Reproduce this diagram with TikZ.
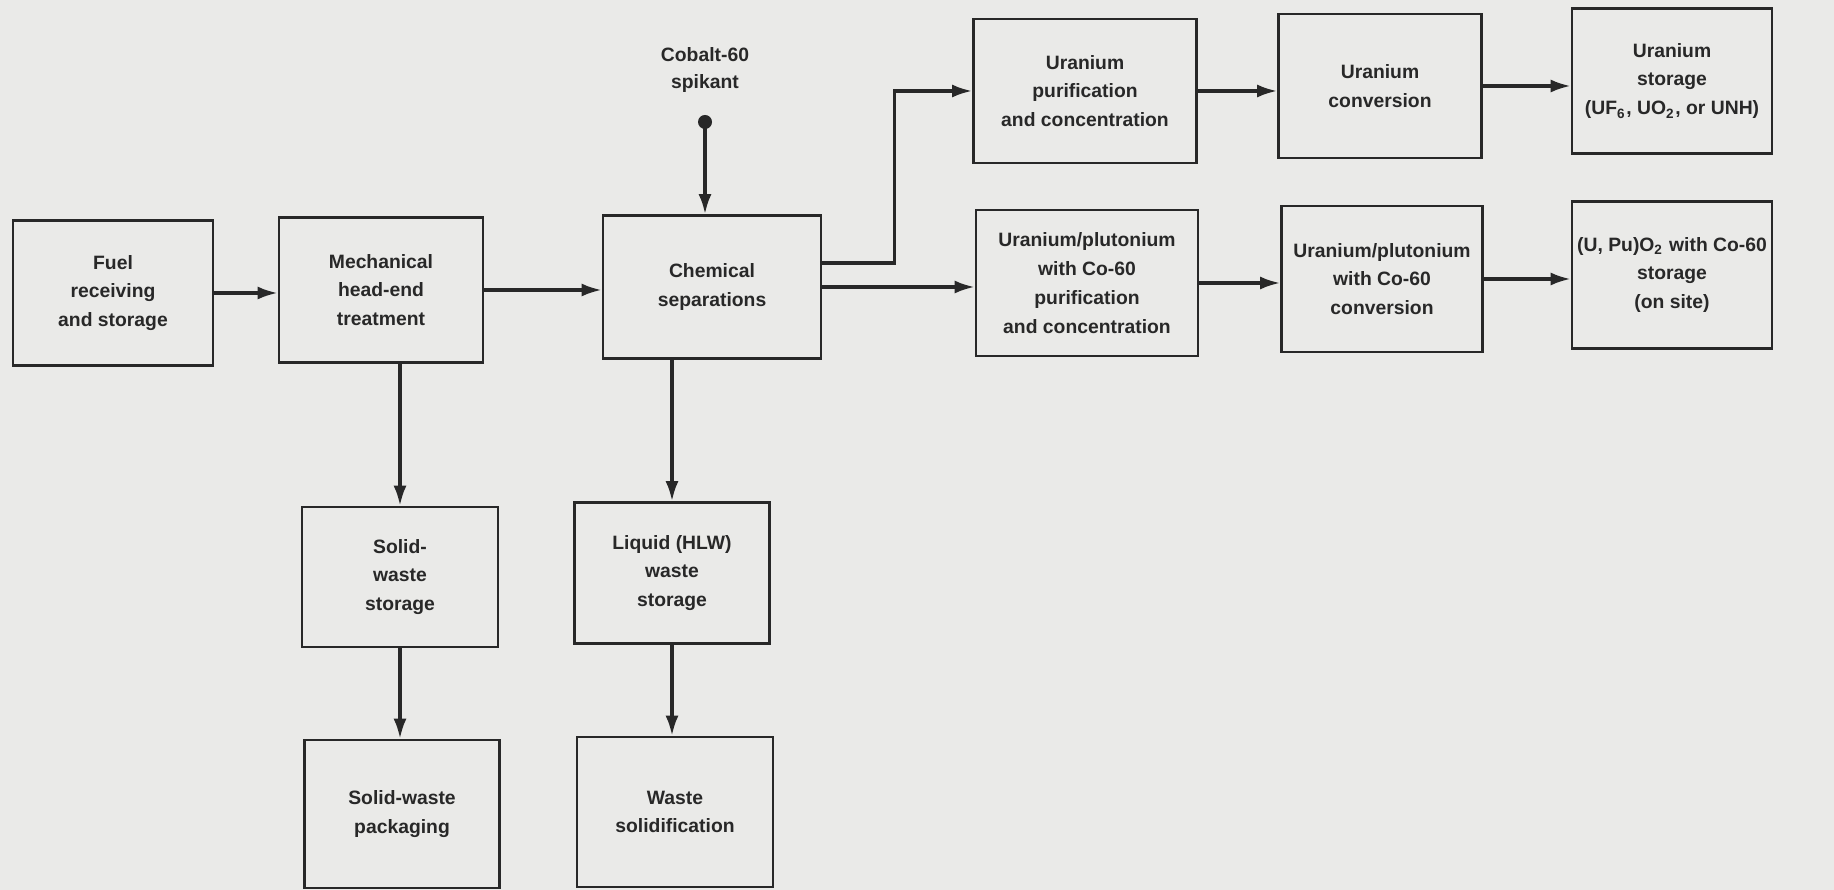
\documentclass[tikz,border=0pt]{standalone}
\usepackage{fontspec}
\setmainfont{Liberation Sans}
\usetikzlibrary{arrows.meta}
\definecolor{paper}{RGB}{234,234,232}
\definecolor{ink}{RGB}{40,40,40}
\begin{document}
\begin{tikzpicture}[nodeStyle/.style={rectangle, draw=ink, line width=0.75pt, minimum width=2cm, minimum height=1.45cm, align=center, text=ink, inner sep=1pt, font=\bfseries\fontsize{5.5}{8.2}\selectfont}, flowStyle/.style={draw=ink, line width=0.9pt, -{Latex[length=2mm,width=1.3mm]}}]
                    \fill[paper] (0,0) rectangle (18.34,-8.90);
                    \useasboundingbox (0,0) rectangle (18.34,-8.90);

                    \node[nodeStyle](11) at ( 1.13, -2.93) {Fuel\\receiving\\and storage};
                    \node[nodeStyle, minimum width=2.04cm](12) at ( 3.81, -2.90) {Mechanical\\head-end\\treatment};
                    \node[nodeStyle, minimum width=2.18cm, minimum height=1.43cm](13) at ( 7.12, -2.87) {Chemical\\separations};
                    \node[nodeStyle, minimum width=2.23cm, minimum height=1.44cm](04) at (10.85, -0.91) {Uranium\\purification\\and concentration};
                    \node[nodeStyle, minimum width=2.22cm, minimum height=1.46cm](14) at (10.87, -2.83) {Uranium/plutonium\\with Co-60\\purification\\and concentration};
                    \node[nodeStyle, minimum width=2.03cm, minimum height=1.44cm](05) at (13.80, -0.86) {Uranium\\conversion};
                    \node[nodeStyle, minimum width=2.01cm, minimum height=1.46cm](15) at (13.82, -2.79) {Uranium/plutonium\\with Co-60\\conversion};
                    \node[nodeStyle](06) at (16.72, -0.81) {Uranium\\storage\\(UF\textsubscript{6}, UO\textsubscript{2}, or UNH)};
                    \node[nodeStyle, minimum height=1.47cm](16) at (16.72, -2.75) {(U, Pu)O\textsubscript{2} with Co-60\\storage\\(on site)};
                    \node[nodeStyle, minimum width=1.96cm, minimum height=1.40cm](22) at ( 4.00, -5.77) {Solid-\\waste\\storage};
                    \node[nodeStyle, minimum width=1.95cm, minimum height=1.48cm](32) at ( 4.02, -8.14) {Solid-waste\\packaging};
                    \node[nodeStyle, minimum width=1.95cm, minimum height=1.41cm](23) at ( 6.72, -5.73) {Liquid (HLW)\\waste\\storage};
                    \node[nodeStyle, minimum width=1.96cm, minimum height=1.50cm](33) at ( 6.75, -8.12) {Waste\\solidification};

                    \node[text=ink, align=center, font=\bfseries\fontsize{5.5}{7.6}\selectfont](spikant) at (7.05, -0.70) {Cobalt-60\\spikant};
                    \fill[ink] (7.05, -1.22) circle (0.07) coordinate (dot);

                    \draw[flowStyle] (11) -- (11 -| 12.west);
                    \draw[flowStyle] (12) -- (12 -| 13.west);
                    \draw[flowStyle] (dot) -- (dot |- 13.north);
                    \draw[flowStyle] ([yshift=0.24cm]13.east) -- ++(0.72, 0) |- (04.west);
                    \draw[flowStyle] (13) -- (13 -| 14.west);
                    \draw[flowStyle] (04) -- (04 -| 05.west);
                    \draw[flowStyle] (14) -- (14 -| 15.west);
                    \draw[flowStyle] (05) -- (05 -| 06.west);
                    \draw[flowStyle] (15) -- (15 -| 16.west);
                    \draw[flowStyle] (22.north |- 12.south) -- (22.north);
                    \draw[flowStyle] (22) -- (22 |- 32.north);
                    \draw[flowStyle] (23.north |- 13.south) -- (23.north);
                    \draw[flowStyle] (23) -- (23 |- 33.north);
                \end{tikzpicture}
\end{document}
